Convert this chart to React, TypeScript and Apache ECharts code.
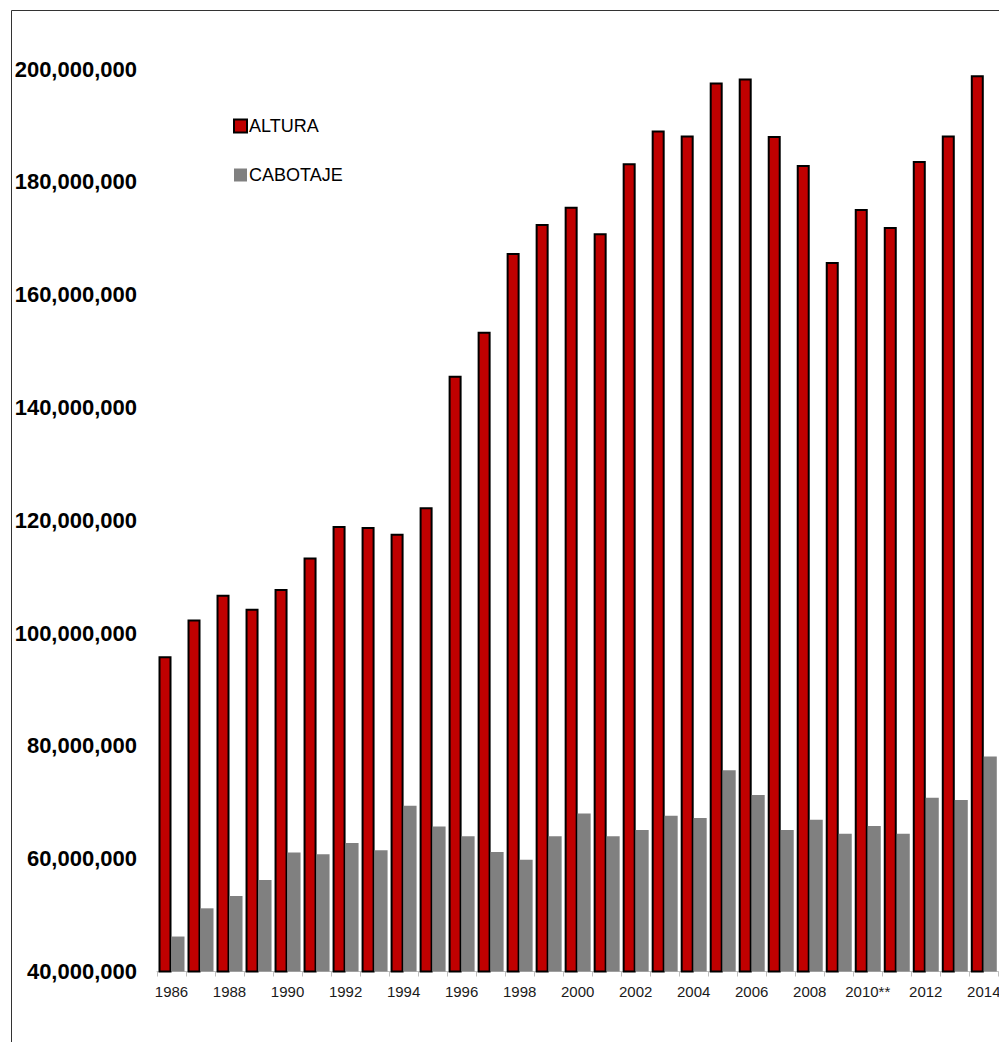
import React, { useEffect, useRef } from "react";
import * as echarts from "echarts";

const years: string[] = [
  "1986", "1987", "1988", "1989", "1990", "1991", "1992", "1993", "1994", "1995",
  "1996", "1997", "1998", "1999", "2000", "2001", "2002", "2003", "2004", "2005",
  "2006", "2007", "2008", "2009", "2010**", "2011", "2012", "2013", "2014",
];

const altura: number[] = [
  95.9, 102.4, 106.8, 104.3, 107.8, 113.4, 119.0, 118.8, 117.6, 122.3,
  145.6, 153.4, 167.4, 172.5, 175.6, 170.9, 183.3, 189.1, 188.2, 197.6,
  198.3, 188.1, 183.0, 165.8, 175.2, 172.0, 183.7, 188.2, 198.9,
].map((v) => v * 1e6);

const cabotaje: number[] = [
  46.2, 51.2, 53.4, 56.2, 61.1, 60.8, 62.8, 61.5, 69.4, 65.7,
  64.0, 61.2, 59.8, 64.0, 68.0, 64.0, 65.1, 67.6, 67.2, 75.7,
  71.3, 65.1, 66.9, 64.4, 65.8, 64.4, 70.8, 70.4, 78.1,
].map((v) => v * 1e6);

const yMin = 40e6;
const yMax = 200e6;
const yStep = 20e6;

const FONT = '"Liberation Sans", Arial, sans-serif';

export default function App() {
  const ref = useRef<HTMLDivElement>(null);

  useEffect(() => {
    document.body.style.margin = "0";
    document.body.style.overflow = "hidden";
    document.documentElement.style.overflow = "hidden";
    if (!ref.current) return;
    const chart = echarts.init(ref.current, undefined, { renderer: "svg" });
    chart.setOption({
      animation: false,
      backgroundColor: "#ffffff",
      textStyle: { fontFamily: FONT },
      grid: {
        left: 157,
        right: 0.7,
        top: 69,
        bottom: 70.5,
        containLabel: false,
        outerBoundsMode: "none",
      },
      legend: {
        orient: "vertical",
        left: 233,
        top: 117,
        padding: 0,
        icon: "rect",
        itemWidth: 13,
        itemHeight: 13,
        itemGap: 31,
        selectedMode: false,
        textStyle: {
          fontFamily: FONT,
          fontSize: 18,
          color: "#000",
          lineHeight: 18,
          padding: [0, 0, 0, -3],
        },
        data: ["ALTURA", "CABOTAJE"],
      },
      xAxis: {
        type: "category",
        data: years,
        boundaryGap: true,
        axisLine: { show: true, lineStyle: { color: "#bfbfbf", width: 1 } },
        axisTick: { show: true, interval: 0, length: 5, lineStyle: { color: "#bfbfbf" } },
        axisLabel: {
          interval: 1,
          fontFamily: FONT,
          fontSize: 15,
          color: "#1a1a1a",
          margin: 12,
        },
        splitLine: { show: false },
      },
      yAxis: {
        type: "value",
        min: yMin,
        max: yMax,
        interval: yStep,
        axisLine: { show: false },
        axisTick: { show: false },
        splitLine: { show: false },
        axisLabel: {
          fontFamily: FONT,
          fontSize: 22,
          fontWeight: "bold",
          color: "#000",
          margin: 20,
          formatter: (v: number) => Math.round(v).toLocaleString("en-US"),
        },
      },
      series: [
        {
          name: "ALTURA",
          type: "bar",
          data: altura,
          barWidth: 13,
          barGap: "0%",
          itemStyle: { color: "#C00000", borderColor: "#000000", borderWidth: 2 },
        },
        {
          name: "CABOTAJE",
          type: "bar",
          data: cabotaje,
          barWidth: 13,
          barGap: "0%",
          itemStyle: { color: "#808080" },
        },
      ],
      graphic: [
        {
          type: "line",
          silent: true,
          shape: { x1: 11.5, y1: 10.5, x2: 1100, y2: 10.5 },
          style: { stroke: "#333333", lineWidth: 1 },
        },
        {
          type: "line",
          silent: true,
          shape: { x1: 11.5, y1: 10.5, x2: 11.5, y2: 1100 },
          style: { stroke: "#333333", lineWidth: 1 },
        },
      ],
    });
    return () => chart.dispose();
  }, []);

  return <div ref={ref} style={{ width: 999, height: 1042 }} />;
}
